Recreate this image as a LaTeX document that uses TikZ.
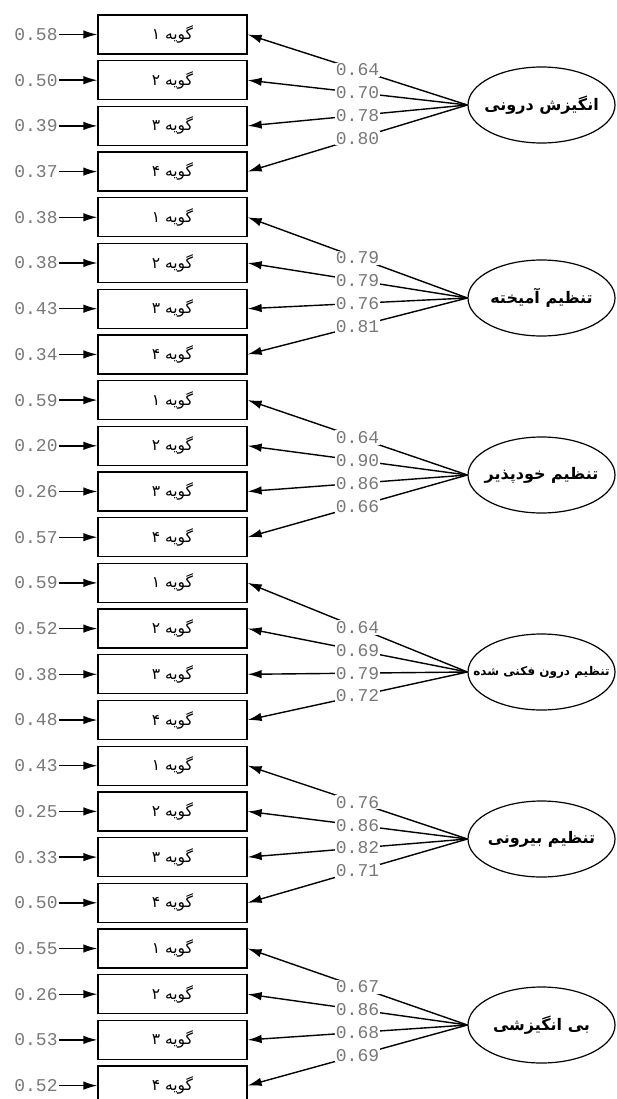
\documentclass[tikz,border=0pt]{standalone}
\usepackage{fontspec}
\usetikzlibrary{arrows.meta,shapes.geometric}
\TeXXeTstate=1
\newfontfamily\fafont[Script=Arabic]{DejaVu Sans}
\newfontfamily\numfont{Liberation Mono}
\definecolor{coefgray}{RGB}{120,120,120}

\tikzset{
  itembox/.style={draw, line width=1.3pt, minimum width=149pt, minimum height=39pt,
    inner sep=0pt, font=\fafont\fontsize{15.5}{17}\selectfont},
  factor/.style={draw, ellipse, line width=1.2pt, minimum width=147pt, minimum height=76pt,
    inner sep=0pt},
  coef/.style={text=coefgray, font=\numfont\fontsize{18}{18}\selectfont, inner sep=1pt},
  onpath/.style={fill=white},
  link/.style={line width=1.4pt, -{Latex[length=14pt,width=8.5pt]}},
}

% one latent factor with its four indicator items
% #1 group index, #2 y of the factor, #3 factor name, #4 name font size,
% #5 list of item/error/loading
\newcommand\factorgroup[5]{%
  \node[factor] (f#1) at (541.5,#2) {};
  \node[inner sep=0pt, font=\fafont\bfseries\fontsize{#4}{#4}\selectfont] (n#1) at (f#1.center) {#3};
  \foreach \i/\e/\l in {#5} {
    \pgfmathsetmacro\yy{34.5+45.7*(4*#1+\i-1)}
    \node[itembox] (b#1-\i) at (172.5,\yy) {\beginR گویه \char\numexpr"06F0+\i\relax\endR};
    \node[coef] (e#1-\i) at (36,\yy) {\e};
    \draw[link] (e#1-\i) -- (b#1-\i);
    \draw[link] (f#1.west) -- node[coef, onpath] {\l} (b#1-\i.east);
  }
}

\begin{document}
\begin{tikzpicture}[x=1pt, y=-1pt]
\useasboundingbox (0,0) rectangle (616,1099);
\clip (0,0) rectangle (616,1099);

\factorgroup{0}{105}{\beginR انگیزش درونی\endR}{16}{1/0.58/0.64, 2/0.50/0.70, 3/0.39/0.78, 4/0.37/0.80}
\factorgroup{1}{298}{\beginR تنظیم آمیخته\endR}{16}{1/0.38/0.79, 2/0.38/0.79, 3/0.43/0.76, 4/0.34/0.81}
\factorgroup{2}{475}{\beginR تنظیم خودپذیر\endR}{16}{1/0.59/0.64, 2/0.20/0.90, 3/0.26/0.86, 4/0.57/0.66}
\factorgroup{3}{672}{\beginR تنظیم درون فکنی شده\endR}{12}{1/0.59/0.64, 2/0.52/0.69, 3/0.38/0.79, 4/0.48/0.72}
\factorgroup{4}{839}{\beginR تنظیم بیرونی\endR}{16}{1/0.43/0.76, 2/0.25/0.86, 3/0.33/0.82, 4/0.50/0.71}
\factorgroup{5}{1025}{\beginR بی انگیزشی\endR}{16}{1/0.55/0.67, 2/0.26/0.86, 3/0.53/0.68, 4/0.52/0.69}
\end{tikzpicture}
\end{document}
